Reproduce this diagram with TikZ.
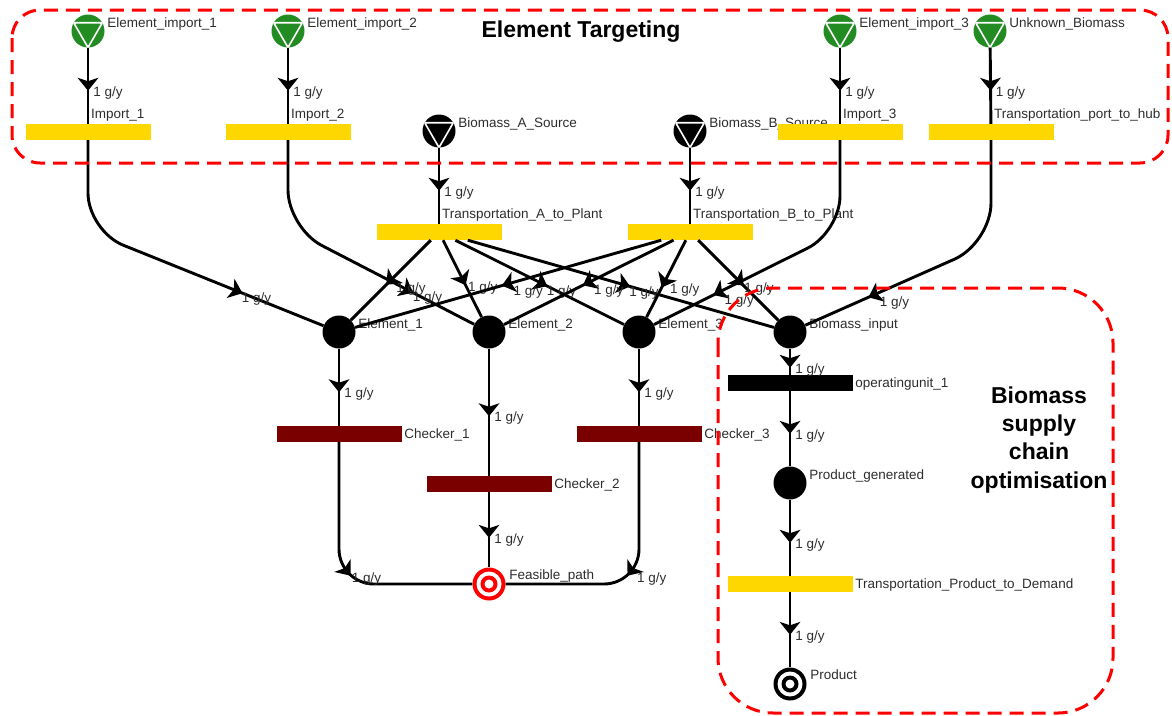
\documentclass[tikz,border=0pt]{standalone}
\usepackage{fontspec}
\setmainfont{Liberation Sans}
\usetikzlibrary{decorations.markings}

\definecolor{srcgreen}{RGB}{34,139,34}
\definecolor{bargold}{RGB}{255,215,0}
\definecolor{checkred}{RGB}{122,0,0}
\definecolor{txtgray}{RGB}{45,45,45}

\tikzset{
  lbl/.style={text=txtgray, font=\fontsize{13.5}{16}\selectfont, inner sep=0pt},
  rate/.style={lbl, anchor=base west},
  % circle labels: right of the node, slightly raised
  clabel/.style={label={[lbl, anchor=base west, xshift=2.5pt, yshift=4pt]0:#1}},
  plabel/.style={label={[lbl, anchor=base west, xshift=3.5pt, yshift=5pt]0:#1}},
  tlabel/.style={label={[lbl, anchor=base west, xshift=3pt, yshift=5pt]90:#1}},
  rlabel/.style={label={[lbl, anchor=base west, xshift=2.5pt, yshift=-4pt]0:#1}},
  src/.style={circle, fill=#1, minimum size=33pt, inner sep=0pt,
    path picture={\draw[white, line width=1.6pt]
      ([shift={(150:16.5pt)}]path picture bounding box.center) --
      ([shift={(30:16.5pt)}]path picture bounding box.center) --
      ([shift={(-90:16.5pt)}]path picture bounding box.center) -- cycle;}},
  mat/.style={circle, fill=black, minimum size=33pt, inner sep=0pt},
  prodnode/.style={circle, fill=#1, minimum size=33pt, inner sep=0pt,
    path picture={
      \fill[white] (path picture bounding box.center) circle (12.5pt);
      \fill[#1] (path picture bounding box.center) circle (8.5pt);
      \fill[white] (path picture bounding box.center) circle (4.5pt);}},
  opunit/.style={rectangle, fill=#1, minimum width=125pt, minimum height=16pt, inner sep=0pt},
  flow/.style={draw=black, line width=2.9pt, postaction={decorate, decoration={markings,
    mark=at position #1 with {
      \fill[black, sharp corners] (6.5pt,0pt) -- (-6.5pt,10.5pt) -- (-3pt,0pt) -- (-6.5pt,-10.5pt) -- cycle;
      \pgftransformresetnontranslations
      \node[rate] at (4pt,-12pt) {1 g/y};}}}},
  flow/.default=0.48,
  region/.style={red, line width=3pt, dash pattern=on 14pt off 8pt},
  heading/.style={font=\fontsize{23}{28.3}\selectfont\bfseries, inner sep=0pt, align=center}
}

\begin{document}
\begin{tikzpicture}[x=1pt, y=-1pt]
    \useasboundingbox (0,0) rectangle (1172,715);

    % raw materials
    \node[src=srcgreen, clabel={Element\_import\_1}] (src1) at (88,31) {};
    \node[src=srcgreen, clabel={Element\_import\_2}] (src2) at (288,31) {};
    \node[src=srcgreen, clabel={Element\_import\_3}] (src3) at (840,31) {};
    \node[src=srcgreen, clabel={Unknown\_Biomass}] (src4) at (990,31) {};
    \node[src=black, clabel={Biomass\_A\_Source}] (srcA) at (439,131) {};
    \node[src=black, clabel={Biomass\_B\_Source}] (srcB) at (690,131) {};

    % operating units
    \node[opunit=bargold, tlabel={Import\_1}] (imp1) at (88,132) {};
    \node[opunit=bargold, tlabel={Import\_2}] (imp2) at (288,132) {};
    \node[opunit=bargold, tlabel={Import\_3}] (imp3) at (840,132) {};
    \node[opunit=bargold, tlabel={Transportation\_port\_to\_hub}] (tph) at (991,132) {};
    \node[opunit=bargold, tlabel={Transportation\_A\_to\_Plant}] (trA) at (439,232) {};
    \node[opunit=bargold, tlabel={Transportation\_B\_to\_Plant}] (trB) at (690,232) {};
    \node[opunit=checkred, rlabel={Checker\_1}] (ch1) at (339,434) {};
    \node[opunit=checkred, rlabel={Checker\_2}] (ch2) at (489,484) {};
    \node[opunit=checkred, rlabel={Checker\_3}] (ch3) at (639,434) {};
    \node[opunit=black, rlabel={operatingunit\_1}] (op1) at (790,383) {};
    \node[opunit=bargold, rlabel={Transportation\_Product\_to\_Demand}] (tpd) at (790,584) {};

    % intermediate materials and products
    \node[mat, clabel={Element\_1}] (e1) at (339,332) {};
    \node[mat, clabel={Element\_2}] (e2) at (489,332) {};
    \node[mat, clabel={Element\_3}] (e3) at (639,332) {};
    \node[mat, clabel={Biomass\_input}] (bio) at (790,332) {};
    \node[mat, clabel={Product\_generated}] (pg) at (790,483) {};
    \node[prodnode=red, plabel={Feasible\_path}] (fp) at (489,584) {};
    \node[prodnode=black, plabel={Product}] (prod) at (790,684) {};

    % supply edges
    \draw[flow] (src1) -- (imp1);
    \draw[flow] (src2) -- (imp2);
    \draw[flow] (src3) -- (imp3);
    \draw[flow] (src4) -- (tph);
    \draw[flow] (srcA) -- (trA);
    \draw[flow] (srcB) -- (trB);
    \draw[flow=0.72, rounded corners=38pt] (imp1.south) -- (88,231) -- (e1);
    \draw[flow=0.74, rounded corners=38pt] (imp2.south) -- (288,228) -- (e2);
    \draw[flow=0.75, rounded corners=36pt] (imp3.south) -- (840,232) -- (e3);
    \draw[flow=0.745, rounded corners=40pt] (tph.south) -- (991,243) -- (bio);
    \foreach \m/\p in {e1/0.5, e2/0.51, e3/0.51, bio/0.51}
        \draw[flow=\p] (trA) -- (\m);
    \foreach \m/\p in {e1/0.5, e2/0.5, e3/0.54, bio/0.51}
        \draw[flow=\p] (trB) -- (\m);

    % checkers
    \draw[flow] (e1) -- (ch1);
    \draw[flow] (e2) -- (ch2);
    \draw[flow] (e3) -- (ch3);
    \draw[flow=0.52] (ch2) -- (fp);
    \draw[flow=0.5, rounded corners=35pt] (ch1.south) -- (339,584) -- (fp);
    \draw[flow=0.5, rounded corners=35pt] (ch3.south) -- (639,584) -- (fp);

    % biomass chain
    \draw[flow] (bio) -- (op1);
    \draw[flow] (op1) -- (pg);
    \draw[flow] (pg) -- (tpd);
    \draw[flow] (tpd) -- (prod);

    % regions
    \draw[region, rounded corners=28pt] (12,10) rectangle (1168,163);
    \draw[region, rounded corners=55pt] (718,288) rectangle (1113,713);
    \node[heading, anchor=base] (t-et) at (581,37) {Element Targeting};
    \node[heading, anchor=base] (t-bsc) at (1039,488) {Biomass\\supply\\chain\\optimisation};
\end{tikzpicture}
\end{document}
